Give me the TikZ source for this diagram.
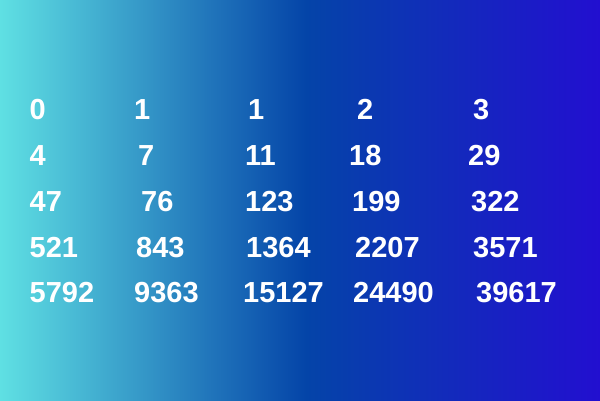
\documentclass[tikz,border=0pt]{standalone}
\usepackage{fontspec}
\setmainfont{Liberation Sans}
\usetikzlibrary{calc}
\definecolor{cyanL}{HTML}{5FE0E3}
\definecolor{blueM}{HTML}{0444A8}
\definecolor{violR}{HTML}{220FD0}
\pgfdeclarehorizontalshading{bgshade}{100bp}{color(0bp)=(cyanL); color(25bp)=(cyanL); color(50.5bp)=(blueM); color(75bp)=(violR); color(100bp)=(violR)}
\tikzset{num/.style={anchor=base west,inner sep=0pt,text=white,font=\fontsize{29}{31}\selectfont\bfseries}}

\begin{document}
\begin{tikzpicture}[x=1pt,y=1pt]
				  %BACKGROUND
				  \useasboundingbox (0,0) rectangle (600,400);
				  \shade[shading=bgshade] (0,0) rectangle (600,400);
				  %ROW 1
				  \node[num] (r1c1) at (29.5,281) {0};
				  \node[num] (r1c2) at (134,281) {1};
				  \node[num] (r1c3) at (248,281) {1};
				  \node[num] (r1c4) at (357,281) {2};
				  \node[num] (r1c5) at (473,281) {3};
				  %ROW 2
				  \node[num] (r2c1) at (29.5,235) {4};
				  \node[num] (r2c2) at (138,235) {7};
				  \node[num] (r2c3) at (245,235) {11};
				  \node[num] (r2c4) at (349,235) {18};
				  \node[num] (r2c5) at (468,235) {29};
				  %ROW 3
				  \node[num] (r3c1) at (29.5,189) {47};
				  \node[num] (r3c2) at (141,189) {76};
				  \node[num] (r3c3) at (245,189) {123};
				  \node[num] (r3c4) at (352,189) {199};
				  \node[num] (r3c5) at (471,189) {322};
				  %ROW 4
				  \node[num] (r4c1) at (29.5,143) {521};
				  \node[num] (r4c2) at (136,143) {843};
				  \node[num] (r4c3) at (246,143) {1364};
				  \node[num] (r4c4) at (355,143) {2207};
				  \node[num] (r4c5) at (473,143) {3571};
				  %ROW 5
				  \node[num] (r5c1) at (29.5,98) {5792};
				  \node[num] (r5c2) at (134,98) {9363};
				  \node[num] (r5c3) at (243,98) {15127};
				  \node[num] (r5c4) at (353,98) {24490};
				  \node[num] (r5c5) at (476,98) {39617};
				  \end{tikzpicture}
\end{document}
